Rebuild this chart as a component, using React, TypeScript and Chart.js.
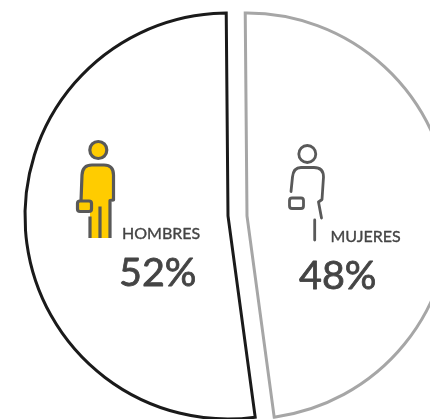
import React, { useEffect, useRef } from "react";
import { Chart, registerables } from "chart.js";

Chart.register(...registerables);

const categories = ["MUJERES", "HOMBRES"];
const shares = [48, 52];
const borderColors = ["#a6a6a6", "#1a1a1a"];
const sliceShift = [9.5, -9.5];

const TEXT = "#444444";
const ICON = "#595959";
const YELLOW = "#ffcc00";

function drawMan(c: CanvasRenderingContext2D) {
  c.lineWidth = 3.2;
  c.strokeStyle = ICON;
  c.lineCap = "butt";
  c.lineJoin = "round";
  c.fillStyle = YELLOW;
  c.beginPath();
  c.arc(98.3, 150, 8.5, 0, Math.PI * 2);
  c.fill();
  c.stroke();
  c.beginPath();
  c.moveTo(81, 201);
  c.lineTo(82, 175);
  c.quadraticCurveTo(82.5, 165, 92, 165);
  c.lineTo(104, 165);
  c.quadraticCurveTo(113.5, 165, 113.5, 175);
  c.lineTo(113.5, 200);
  c.lineTo(110, 200.5);
  c.lineTo(110, 238);
  c.lineTo(90, 238);
  c.lineTo(90, 210);
  c.lineTo(81, 210);
  c.closePath();
  c.fill();
  c.beginPath();
  c.moveTo(81, 201);
  c.lineTo(82, 175);
  c.quadraticCurveTo(82.5, 165, 92, 165);
  c.lineTo(104, 165);
  c.quadraticCurveTo(113.5, 165, 113.5, 175);
  c.lineTo(113.5, 200);
  c.lineTo(110, 200.5);
  c.lineTo(110, 238);
  c.moveTo(100, 206.5);
  c.lineTo(100, 238);
  c.moveTo(90, 216.5);
  c.lineTo(90, 238);
  c.stroke();
  c.beginPath();
  c.roundRect(77.5, 201, 14, 10.5, 2.5);
  c.fill();
  c.stroke();
}

function drawWoman(c: CanvasRenderingContext2D) {
  c.lineWidth = 2.8;
  c.strokeStyle = ICON;
  c.lineCap = "round";
  c.lineJoin = "round";
  c.beginPath();
  c.arc(307.3, 154, 8.5, 0, Math.PI * 2);
  c.stroke();
  c.beginPath();
  c.moveTo(291, 191.5);
  c.lineTo(292.5, 177);
  c.quadraticCurveTo(293.5, 167.5, 301, 167.5);
  c.lineTo(314, 167.5);
  c.quadraticCurveTo(323.5, 167.5, 323.5, 177);
  c.lineTo(322, 199.5);
  c.lineTo(318.5, 202);
  c.lineTo(321.5, 218);
  c.moveTo(314.7, 220);
  c.lineTo(314.7, 240);
  c.stroke();
  c.beginPath();
  c.roundRect(289.5, 198, 14, 10.5, 2.5);
  c.stroke();
}

function label(c: CanvasRenderingContext2D, text: string, x: number, y: number, weight: number) {
  c.lineWidth = weight;
  c.strokeText(text, x, y);
  c.fillText(text, x, y);
}

const overlay = {
  id: "overlay",
  afterDatasetsUpdate(chart: Chart) {
    chart.getDatasetMeta(0).data.forEach((el: any, i: number) => {
      const original = Object.getPrototypeOf(el).draw;
      el.draw = function (ctx: CanvasRenderingContext2D, area: any) {
        ctx.save();
        ctx.translate(sliceShift[i], 0);
        original.call(this, ctx, area);
        ctx.restore();
      };
    });
  },
  afterDraw(chart: Chart) {
    const c = chart.ctx;
    c.save();
    drawMan(c);
    drawWoman(c);
    c.fillStyle = TEXT;
    c.strokeStyle = TEXT;
    c.lineJoin = "round";
    c.textAlign = "left";
    c.textBaseline = "alphabetic";
    c.font = "16px Lato";
    label(c, categories[1], 122, 238.5, 0.35);
    label(c, categories[0], 330.5, 241.5, 0.35);
    c.font = "39.5px Lato";
    label(c, `${shares[1]}%`, 119, 286, 0.8);
    label(c, `${shares[0]}%`, 299, 288.5, 0.8);
    c.restore();
  },
};

export default function App() {
  const ref = useRef<HTMLCanvasElement>(null);
  useEffect(() => {
    document.body.style.margin = "0";
    document.documentElement.style.overflow = "hidden";
    document.body.style.overflow = "hidden";
    const chart = new Chart(ref.current!, {
      type: "pie",
      data: {
        labels: categories,
        datasets: [
          {
            data: shares,
            backgroundColor: "#ffffff",
            borderColor: borderColors,
            borderWidth: 3,
            borderAlign: "center",
            borderJoinStyle: "miter",
            radius: 203,
            clip: false,
          } as any,
        ],
      },
      options: {
        responsive: false,
        animation: false,
        rotation: -0.5,
        layout: { padding: 0 },
        plugins: { legend: { display: false }, tooltip: { enabled: false } },
      },
      plugins: [overlay],
    });
    return () => chart.destroy();
  }, []);
  return (
    <div style={{ width: 430, height: 419, overflow: "hidden", position: "relative", background: "#fff" }}>
      <canvas ref={ref} width={475} height={432} style={{ display: "block" }} />
    </div>
  );
}
